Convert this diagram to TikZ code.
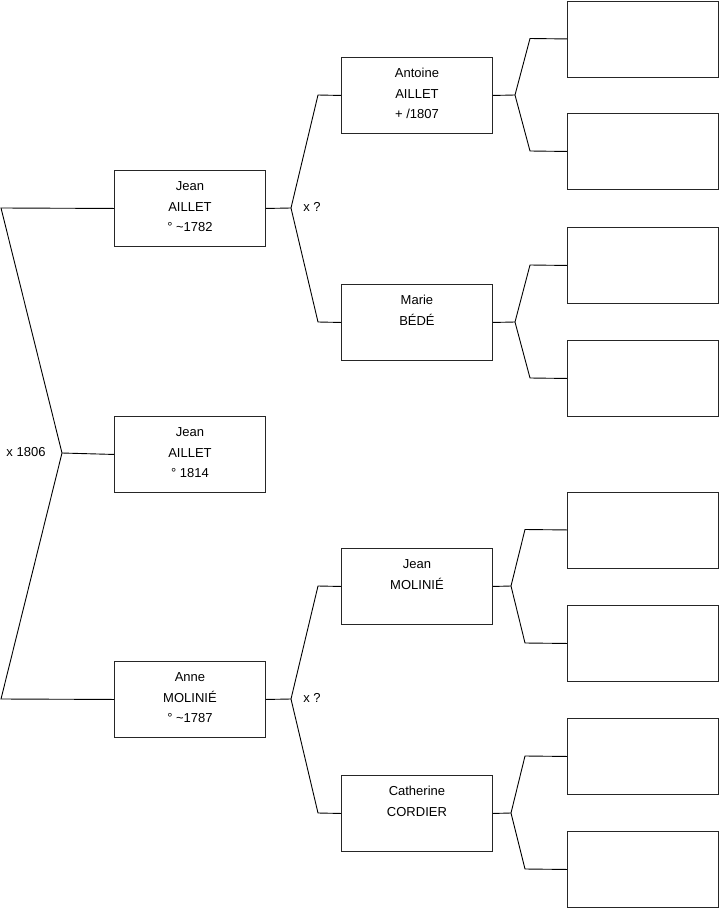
\documentclass[tikz,border=0pt]{standalone}
\usepackage{fontspec}
\setmainfont{Liberation Sans}
\begin{document}
\begin{tikzpicture}[x=1pt,y=-1pt,
  pbox/.style={draw=black!85,line width=0.9pt,minimum width=151pt,minimum height=76pt,inner sep=0pt,anchor=north west},
  ebox/.style={draw=black!85,line width=0.9pt,minimum width=151pt,minimum height=76pt,inner sep=0pt,anchor=north west},
  txt/.style={font=\fontsize{13pt}{15pt}\selectfont,inner sep=0pt,anchor=base},
  conn/.style={draw=black,line width=0.9pt}]
\useasboundingbox (0,0) rectangle (719,908);
% left column
\node[pbox] (j1) at (114,170) {};
\node[pbox] (j2) at (114,416) {};
\node[pbox] (am) at (114,661) {};
% middle column
\node[pbox] (aa) at (341,57) {};
\node[pbox] (mb) at (341,284) {};
\node[pbox] (jm) at (341,548) {};
\node[pbox] (cc) at (341,775) {};
% right column
\node[ebox] (r1) at (567,0.5) {};
\node[ebox] (r2) at (567,113) {};
\node[ebox] (r3) at (567,227) {};
\node[ebox] (r4) at (567,340) {};
\node[ebox] (r5) at (567,491.5) {};
\node[ebox] (r6) at (567,605) {};
\node[ebox] (r7) at (567,718) {};
\node[ebox] (r8) at (567,831) {};
% texts
\node[txt] (t1a) at ([yshift=-20.5pt]j1.north) {Jean};
\node[txt] (t1b) at ([yshift=-41pt]j1.north) {AILLET};
\node[txt] (t1c) at ([yshift=-61.5pt]j1.north) {° \textasciitilde1782};
\node[txt] (t2a) at ([yshift=-20.5pt]j2.north) {Jean};
\node[txt] (t2b) at ([yshift=-41pt]j2.north) {AILLET};
\node[txt] (t2c) at ([yshift=-61.5pt]j2.north) {° 1814};
\node[txt] (t3a) at ([yshift=-20.5pt]am.north) {Anne};
\node[txt] (t3b) at ([yshift=-41pt]am.north) {MOLINIÉ};
\node[txt] (t3c) at ([yshift=-61.5pt]am.north) {° \textasciitilde1787};
\node[txt] (t4a) at ([yshift=-20.5pt]aa.north) {Antoine};
\node[txt] (t4b) at ([yshift=-41pt]aa.north) {AILLET};
\node[txt] (t4c) at ([yshift=-61.5pt]aa.north) {+ /1807};
\node[txt] (t5a) at ([yshift=-20.5pt]mb.north) {Marie};
\node[txt] (t5b) at ([yshift=-41pt]mb.north) {BÉDÉ};
\node[txt] (t6a) at ([yshift=-20.5pt]jm.north) {Jean};
\node[txt] (t6b) at ([yshift=-41pt]jm.north) {MOLINIÉ};
\node[txt] (t7a) at ([yshift=-20.5pt]cc.north) {Catherine};
\node[txt] (t7b) at ([yshift=-41pt]cc.north) {CORDIER};
% left fork
\coordinate (lf) at (62,453);
\coordinate (lt) at (1,208);
\coordinate (lb) at (1,699);
\draw[conn] (j1.west) -- (lt) -- (lf) -- (lb) -- (am.west);
\draw[conn] (lf) -- (j2.west);
\node[txt] (m0) at (26,456.5) {x 1806};
% middle forks
\coordinate (f1) at (291,208);
\coordinate (f1a) at (318,95);
\coordinate (f1b) at (318,322);
\draw[conn] (j1.east) -- (f1);
\draw[conn] (aa.west) -- (f1a) -- (f1) -- (f1b) -- (mb.west);
\node[txt] (m1) at (312,211.5) {x ?};
\coordinate (f2) at (291,699);
\coordinate (f2a) at (318,586);
\coordinate (f2b) at (318,813);
\draw[conn] (am.east) -- (f2);
\draw[conn] (jm.west) -- (f2a) -- (f2) -- (f2b) -- (cc.west);
\node[txt] (m2) at (312,702.5) {x ?};
% right forks
\coordinate (g1) at (515,95);
\draw[conn] (aa.east) -- (g1);
\draw[conn] (r1.west) -- (530,38.5) -- (g1) -- (530,151) -- (r2.west);
\coordinate (g2) at (515,322);
\draw[conn] (mb.east) -- (g2);
\draw[conn] (r3.west) -- (530,265) -- (g2) -- (530,378) -- (r4.west);
\coordinate (g3) at (511,586);
\draw[conn] (jm.east) -- (g3);
\draw[conn] (r5.west) -- (525,529.5) -- (g3) -- (525,643) -- (r6.west);
\coordinate (g4) at (511,813);
\draw[conn] (cc.east) -- (g4);
\draw[conn] (r7.west) -- (525,756) -- (g4) -- (525,869) -- (r8.west);
\end{tikzpicture}
\end{document}
